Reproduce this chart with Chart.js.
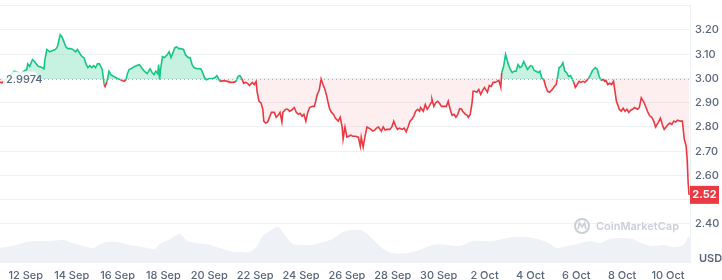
<!DOCTYPE html>
<html>
<head>
<meta charset="utf-8">
<script src="https://cdn.jsdelivr.net/npm/chart.js@4.4.1/dist/chart.umd.min.js"></script>
<style>
  html, body { margin: 0; padding: 0; background: #fff; }
  #wrap { width: 722px; height: 280px; position: relative; }
</style>
</head>
<body>
<div id="wrap"><canvas id="priceChart"></canvas></div>
<script>
// hours since 12 Sep 00:00
const priceHours = [
  -27, -25, -21, -18, -15, -12, -8, -5, -2, 1, 2, 4, 7, 9, 13, 17, 19, 20, 22, 25,
  28, 31, 33, 36, 38, 40, 42, 44, 47, 49, 52, 54, 57, 59, 61, 63, 65, 67, 69, 71,
  73, 75, 77, 80, 82, 83, 85, 87, 89, 92, 96, 99, 103, 105, 106, 108, 110, 112, 114, 116,
  119, 121, 124, 127, 130, 132, 134, 136, 138, 139, 140, 141, 143, 145, 148, 150, 152, 154, 156, 158,
  160, 162, 165, 167, 170, 172, 174, 176, 179, 181, 183, 185, 187, 189, 192, 194, 196, 198, 200, 203,
  205, 208, 211, 214, 217, 220, 222, 224, 226, 228, 230, 232, 234, 237, 239, 241, 242, 244, 246, 248,
  249, 251, 253, 255, 257, 260, 262, 264, 266, 268, 269, 272, 274, 276, 278, 281, 283, 285, 287, 289,
  291, 293, 295, 297, 300, 302, 305, 307, 309, 311, 313, 315, 316, 318, 320, 322, 324, 327, 329, 331,
  332, 334, 336, 338, 340, 342, 345, 348, 350, 351, 353, 355, 357, 359, 361, 363, 365, 367, 369, 372,
  374, 376, 378, 381, 383, 385, 387, 389, 391, 394, 396, 398, 400, 402, 404, 406, 408, 410, 412, 413,
  416, 418, 420, 422, 424, 425, 427, 429, 431, 433, 435, 437, 440, 442, 444, 446, 448, 450, 452, 454,
  456, 457, 460, 462, 463, 465, 467, 468, 470, 472, 474, 476, 478, 480, 483, 485, 487, 489, 491, 493,
  495, 497, 498, 500, 502, 505, 507, 509, 511, 513, 515, 517, 519, 521, 523, 525, 528, 530, 532, 534,
  536, 538, 540, 542, 544, 546, 548, 551, 553, 555, 556, 558, 560, 562, 564, 566, 568, 570, 573, 575,
  577, 579, 581, 583, 585, 587, 589, 591, 593, 596, 598, 600, 602, 604, 606, 607, 609, 611, 613, 615,
  618, 620, 621, 623, 625, 627, 629, 631, 633, 635, 637, 640, 642, 644, 645, 647, 649, 651, 653, 655,
  657, 659, 662, 664, 666, 668, 670, 672, 674, 676, 678, 680, 682, 685, 687, 689, 691, 692, 693, 694
];
const prices = [
  2.985, 2.982, 2.995, 3.005, 3.020, 3.030, 3.025, 3.020, 3.030, 3.037, 3.060, 3.050, 3.078, 3.070, 3.050, 3.045, 3.040, 3.078, 3.120, 3.110,
  3.115, 3.120, 3.130, 3.180, 3.170, 3.150, 3.130, 3.123, 3.123, 3.120, 3.110, 3.120, 3.100, 3.090, 3.085, 3.060, 3.045, 3.053, 3.045, 3.053,
  3.045, 3.060, 3.060, 3.037, 2.975, 2.967, 2.988, 3.030, 3.016, 3.008, 3.000, 2.995, 2.988, 2.995, 3.016, 3.037, 3.040, 3.045, 3.050, 3.053,
  3.057, 3.045, 3.030, 3.020, 3.040, 3.025, 3.016, 3.030, 3.020, 3.057, 2.995, 3.037, 3.090, 3.086, 3.098, 3.110, 3.086, 3.107, 3.127, 3.130,
  3.123, 3.123, 3.120, 3.098, 3.086, 3.086, 3.057, 3.045, 3.040, 3.040, 3.040, 3.025, 3.004, 2.995, 3.000, 3.000, 3.000, 3.004, 3.012, 2.988,
  2.990, 2.990, 2.988, 2.984, 2.984, 2.988, 3.008, 3.012, 3.000, 2.980, 2.984, 2.980, 2.971, 2.984, 2.975, 2.988, 2.947, 2.906, 2.900, 2.873,
  2.824, 2.816, 2.820, 2.840, 2.860, 2.860, 2.840, 2.848, 2.860, 2.820, 2.860, 2.873, 2.873, 2.865, 2.869, 2.880, 2.860, 2.852, 2.856, 2.844,
  2.852, 2.824, 2.860, 2.880, 2.885, 2.885, 2.934, 2.951, 2.998, 2.975, 2.955, 2.926, 2.906, 2.873, 2.860, 2.852, 2.836, 2.824, 2.840, 2.800,
  2.750, 2.800, 2.758, 2.762, 2.766, 2.762, 2.762, 2.758, 2.720, 2.758, 2.717, 2.762, 2.800, 2.795, 2.790, 2.783, 2.787, 2.795, 2.800, 2.783,
  2.800, 2.787, 2.790, 2.790, 2.800, 2.824, 2.803, 2.790, 2.795, 2.790, 2.795, 2.780, 2.800, 2.824, 2.832, 2.845, 2.865, 2.873, 2.865, 2.880,
  2.865, 2.893, 2.873, 2.885, 2.900, 2.914, 2.885, 2.900, 2.906, 2.897, 2.885, 2.885, 2.885, 2.906, 2.873, 2.848, 2.852, 2.840, 2.852, 2.875,
  2.873, 2.865, 2.852, 2.848, 2.840, 2.852, 2.900, 2.947, 2.947, 2.943, 2.955, 2.934, 2.951, 2.963, 2.943, 2.971, 2.967, 2.984, 2.984, 2.988,
  2.992, 2.963, 3.024, 3.050, 3.100, 3.057, 3.037, 3.024, 3.030, 3.030, 3.057, 3.045, 3.050, 3.070, 3.053, 3.037, 3.053, 3.050, 3.033, 3.030,
  3.024, 3.030, 3.000, 2.996, 2.967, 2.947, 2.943, 2.955, 2.967, 2.975, 2.996, 3.045, 3.050, 3.065, 3.030, 3.024, 3.008, 3.012, 2.988, 2.963,
  2.975, 2.988, 2.984, 2.988, 2.984, 2.992, 3.000, 3.016, 3.033, 3.045, 3.037, 3.008, 2.992, 2.996, 2.988, 2.992, 2.975, 2.980, 2.975, 2.988,
  2.906, 2.885, 2.873, 2.865, 2.877, 2.865, 2.873, 2.860, 2.869, 2.873, 2.880, 2.873, 2.880, 2.920, 2.914, 2.900, 2.880, 2.860, 2.845, 2.840,
  2.824, 2.800, 2.820, 2.836, 2.810, 2.790, 2.800, 2.810, 2.816, 2.810, 2.824, 2.820, 2.828, 2.824, 2.824, 2.750, 2.720, 2.668, 2.574, 2.520
];
const volHours = [
  -27, -14, 1, 12, 25, 39, 49, 60, 70, 81, 95, 109, 122, 135, 140, 151, 161, 169, 179, 189,
  203, 217, 224, 234, 242, 248, 257, 264, 271, 279, 290, 300, 311, 321, 332, 342, 353, 363, 374, 384,
  399, 412, 426, 441, 454, 468, 475, 489, 503, 517, 531, 545, 556, 566, 577, 590, 601, 611, 622, 635,
  646, 656, 667, 677, 688, 693, 695
];
// 24h volume, millions USD
const volumes = [
  60, 68, 84, 88, 88, 92, 80, 68, 60, 80, 84, 72, 64, 56, 76, 96, 116, 88, 80, 76,
  60, 44, 44, 44, 68, 108, 132, 144, 112, 76, 72, 72, 84, 96, 124, 132, 128, 96, 56, 40,
  40, 52, 72, 72, 68, 88, 88, 88, 100, 104, 100, 84, 60, 68, 76, 88, 80, 96, 100, 96,
  76, 68, 72, 64, 72, 104, 104
];
const dateLabels = ['12 Sep', '14 Sep', '16 Sep', '18 Sep', '20 Sep', '22 Sep', '24 Sep', '26 Sep',
  '28 Sep', '30 Sep', '2 Oct', '4 Oct', '6 Oct', '8 Oct', '10 Oct'];
const priceTicks = [2.4, 2.5, 2.6, 2.7, 2.8, 2.9, 3.0, 3.1, 3.2, 3.3];
const priceTickLabels = ['2.40', '', '2.60', '2.70', '2.80', '2.90', '3.00', '3.10', '3.20', ''];
const baseline = 2.9974;
const lastPrice = '2.52';

const GREEN = '#16c784';
const RED = '#ea3943';
const TEXT = '#58667e';
const GRID = '#eff2f5';

const pricePoints = priceHours.map((h, i) => ({ x: h, y: prices[i] }));
const volPoints = volHours.map((h, i) => ({ x: h, y: volumes[i] }));

const overlay = {
    id: 'overlay',
    afterDatasetsDraw(chart) {
        const ctx = chart.ctx;
        const area = chart.chartArea;
        const y = chart.scales.y;
        const by = Math.round(y.getPixelForValue(baseline)) + 0.5;

        ctx.save();
        // dotted open price line
        ctx.strokeStyle = '#a6b0c3';
        ctx.lineWidth = 1;
        ctx.setLineDash([1, 3]);
        ctx.beginPath();
        ctx.moveTo(area.left, by);
        ctx.lineTo(area.right, by);
        ctx.stroke();
        ctx.setLineDash([]);

        // open price label
        ctx.fillStyle = 'rgba(255,255,255,0.85)';
        ctx.beginPath();
        ctx.roundRect(3, by - 8, 34, 16, 4);
        ctx.fill();
        ctx.fillStyle = TEXT;
        ctx.font = '500 11px Inter';
        ctx.textAlign = 'left';
        ctx.textBaseline = 'middle';
        ctx.fillText(baseline.toFixed(4), 6, by);

        // last price badge
        const ly = y.getPixelForValue(parseFloat(lastPrice));
        ctx.fillStyle = RED;
        ctx.fillRect(area.right, ly - 9, 29, 18);
        ctx.fillStyle = '#fff';
        ctx.font = '700 11px Inter';
        ctx.textAlign = 'center';
        ctx.fillText(lastPrice, area.right + 14.5, ly);

        // currency label
        ctx.fillStyle = TEXT;
        ctx.font = '600 11px Inter';
        ctx.textAlign = 'left';
        ctx.fillText('USD', area.right + 9, area.bottom - 4);

        // watermark
        const wx = 582, wy = 226;
        ctx.strokeStyle = '#c9cfd9';
        ctx.lineWidth = 2;
        ctx.beginPath();
        ctx.arc(wx, wy, 7, 0, Math.PI * 2);
        ctx.stroke();
        ctx.lineWidth = 1.6;
        ctx.beginPath();
        ctx.moveTo(wx - 4, wy + 3);
        ctx.lineTo(wx - 2.5, wy - 3);
        ctx.lineTo(wx, wy + 1);
        ctx.lineTo(wx + 2.5, wy - 3);
        ctx.lineTo(wx + 4, wy + 3);
        ctx.stroke();
        ctx.fillStyle = '#c9cfd9';
        ctx.font = '600 13px Inter';
        const w = ctx.measureText('CoinMarketCap').width;
        ctx.font = '600 ' + (13 * 83 / w).toFixed(2) + 'px Inter';
        ctx.fillText('CoinMarketCap', 596, wy + 1);
        ctx.restore();
    }
};

new Chart(document.getElementById('priceChart'), {
    type: 'line',
    data: {
        datasets: [{
            label: 'Price',
            data: pricePoints,
            yAxisID: 'y',
            borderWidth: 1.6,
            pointRadius: 0,
            tension: 0,
            order: 1,
            segment: {
                borderColor: c => ((c.p0.parsed.y + c.p1.parsed.y) / 2 >= baseline ? GREEN : RED)
            },
            fill: {
                target: { value: baseline },
                above: 'rgba(22,199,132,0.24)',
                below: 'rgba(234,57,67,0.08)'
            }
        }, {
            label: 'Volume',
            data: volPoints,
            yAxisID: 'yVol',
            borderWidth: 0,
            pointRadius: 0,
            tension: 0.3,
            order: 2,
            fill: 'origin',
            backgroundColor: '#eef1f5'
        }]
    },
    options: {
        responsive: true,
        maintainAspectRatio: false,
        animation: false,
        layout: { padding: { top: 5, left: 0, right: 0, bottom: 0 } },
        plugins: {
            legend: { display: false },
            tooltip: { enabled: false }
        },
        scales: {
            x: {
                type: 'linear',
                min: -27,
                max: 695,
                grid: { display: false, drawTicks: false },
                border: { display: false },
                afterBuildTicks: scale => {
                    scale.ticks = dateLabels.map((_, i) => ({ value: i * 48 }));
                },
                afterFit: scale => {
                    scale.height = 17;
                    scale.paddingLeft = 0;
                    scale.paddingRight = 0;
                },
                ticks: {
                    padding: 6,
                    maxRotation: 0,
                    autoSkip: false,
                    color: TEXT,
                    font: { family: 'Inter', size: 11, weight: 500 },
                    callback: v => dateLabels[Math.round(v / 48)]
                }
            },
            y: {
                position: 'right',
                min: 2.239,
                max: 3.303,
                grid: { color: GRID, drawTicks: false },
                border: { display: true, color: GRID },
                afterBuildTicks: scale => {
                    scale.ticks = priceTicks.map(v => ({ value: v }));
                },
                afterFit: scale => {
                    scale.width = 32;
                    scale.paddingTop = 0;
                    scale.paddingBottom = 0;
                },
                ticks: {
                    padding: 5,
                    color: TEXT,
                    font: { family: 'Inter', size: 11, weight: 500 },
                    callback: (v, i) => priceTickLabels[i]
                }
            },
            yVol: {
                display: false,
                min: 0,
                max: 1030
            }
        }
    },
    plugins: [overlay]
});
</script>
</body>
</html>
